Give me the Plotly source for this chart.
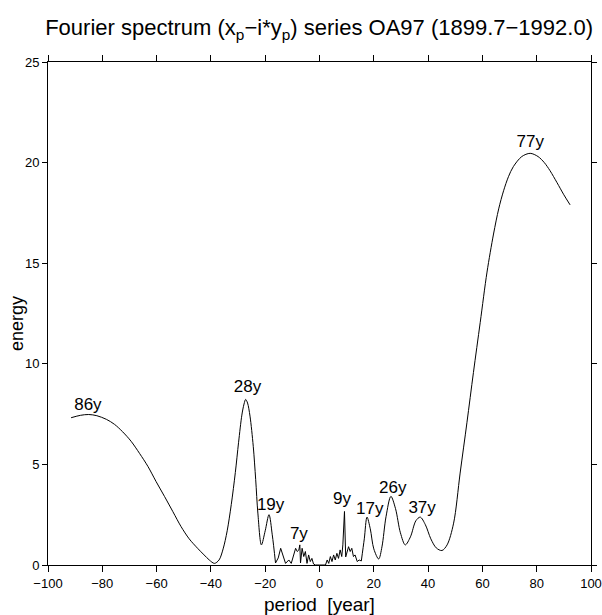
import plotly.graph_objects as go

# spectrum curve (period in years, energy)
period = [-91.5, -88, -85, -82, -78.5, -75.5, -72.5, -69.4, -66.3, -63.2, -60.2, -57.1, -54, -51, -48,
          -44.9, -42.5, -40.6, -38.7, -37, -35.5, -34, -32.5, -31, -29.8, -28.6, -27.8, -27.2, -26.5,
          -25.6, -24.4, -23.5, -22.7, -21.4, -20.0, -18.6, -17.4, -16.2,
          -15.2, -14.3, -13.4, -12.5, -11.3, -10.4, -8.8, -8.2, -7.6, -7.25, -7.0, -6.4, -5.8, -5.2, -4.6,
          -4.0, -3.4, -2.8, -2.2, -1.5, 0.0, 2.2, 2.83, 3.4, 4.0, 4.6, 5.2, 5.8, 6.4, 7.0, 7.6, 8.2, 8.6,
          9.2, 9.65, 10.1, 10.7, 11.3, 11.9, 12.5, 13.1, 13.9, 14.6, 15.4, 16.5, 17.5, 18.7, 20.0, 21.8,
          23.0, 24.5, 26.3, 28.0, 29.8, 31.6, 33.5, 35.5, 37.1, 39.0, 41.0, 43.0, 45.1, 47.0, 49.4, 51.8,
          54.3, 56.7, 59.2, 61.7, 64.1, 66.0, 67.8, 69.6, 71.4, 74.5, 77.6, 80.5, 82.8, 84.9, 87.5, 90.0,
          92.3]
energy = [7.32, 7.44, 7.48, 7.42, 7.24, 6.99, 6.62, 6.15, 5.55, 4.9, 4.15, 3.41, 2.65, 1.91, 1.3,
          0.83, 0.5, 0.25, 0.08, 0.25, 0.8, 1.7, 3.0, 4.6, 6.1, 7.45, 8.0, 8.23, 8.05,
          7.4, 5.9, 4.24, 2.58, 1.0, 1.7, 2.5, 1.5, 0.1,
          0.35, 0.83, 0.4, 0.08, 0.25, 0.08, 0.83, 0.67, 0.75, 1.0, 0.1, 0.83, 0.42, 0.67, 0.08,
          0.5, 0.17, 0.33, 0.05, 0.0, 0.0, 0.0, 0.25, 0.08, 0.42, 0.17, 0.5, 0.25, 0.58, 0.33, 0.75, 0.42, 1.0,
          2.66, 0.4, 0.58, 0.91, 0.67, 0.83, 0.42, 0.5, 0.17, 0.25, 0.2, 1.3, 2.38, 1.8, 0.8, 0.3,
          0.9, 2.4, 3.41, 2.8, 1.6, 1.0, 1.4, 2.2, 2.38, 2.0, 1.3, 0.85, 0.72, 1.0, 2.08, 4.57,
          7.07, 9.57, 12.06, 14.56, 16.45, 17.7, 18.6, 19.3, 19.8, 20.3, 20.46, 20.3, 20.0, 19.6, 19.0, 18.4,
          17.9]

# peak labels
label_text = ["86y", "28y", "19y", "7y", "9y", "17y", "26y", "37y", "77y"]
label_x = [-85.3, -26.5, -18.0, -7.6, 8.3, 18.5, 27.0, 37.8, 77.6]
label_y = [7.93, 8.83, 2.95, 1.5, 3.25, 2.75, 3.8, 2.8, 21.0]

FONT = "Liberation Sans, Arial, Helvetica, sans-serif"

# split the curve: smooth long-period parts drawn as splines, dense short-period part as straight segments
i_a = period.index(-16.2)
i_b = period.index(15.4)
segments = [
    (period[:i_a + 1], energy[:i_a + 1], "spline"),
    (period[i_a:i_b + 1], energy[i_a:i_b + 1], "linear"),
    (period[i_b:], energy[i_b:], "spline"),
]

fig = go.Figure()
for xs, ys, shp in segments:
    fig.add_trace(go.Scatter(x=xs, y=ys, mode="lines",
                             line=dict(color="black", width=1, shape=shp, smoothing=0.9),
                             showlegend=False, hoverinfo="skip"))
fig.add_trace(go.Scatter(x=label_x, y=label_y, mode="text", text=label_text,
                         textfont=dict(family=FONT, size=17, color="black"),
                         showlegend=False, hoverinfo="skip"))

fig.update_layout(
    width=602, height=615,
    margin=dict(l=48, r=11, t=62, b=50),
    paper_bgcolor="white", plot_bgcolor="white",
    font=dict(family=FONT, color="black"),
    title=dict(text="Fourier spectrum (x<sub>p</sub>\u2212i*y<sub>p</sub>) series OA97 (1899.7\u22121992.0)",
               x=0.53, xanchor="center", y=0.955, yanchor="middle",
               font=dict(family=FONT, size=22, color="black")),
    xaxis=dict(range=[-100, 100], dtick=20, tick0=0, ticks="outside", ticklen=6, tickcolor="black",
               tickwidth=1, showline=True, linecolor="black", linewidth=1, mirror="allticks",
               showgrid=False, zeroline=False, automargin=False,
               tickfont=dict(family=FONT, size=13, color="black")),
    yaxis=dict(range=[0, 25], dtick=5, tick0=0, ticks="outside", ticklen=5, tickcolor="black",
               tickwidth=1, showline=True, linecolor="black", linewidth=1, mirror="allticks",
               showgrid=False, zeroline=False, automargin=False,
               tickfont=dict(family=FONT, size=13, color="black")),
    annotations=[
        dict(text="period  [year]", xref="paper", yref="paper", x=0.5, y=-0.078,
             xanchor="center", yanchor="middle", showarrow=False,
             font=dict(family=FONT, size=19, color="black")),
        dict(text="energy", xref="paper", yref="paper", x=-0.058, y=0.48,
             xanchor="center", yanchor="middle", textangle=-90, showarrow=False,
             font=dict(family=FONT, size=18, color="black")),
    ],
)

fig.write_html("out.html")
